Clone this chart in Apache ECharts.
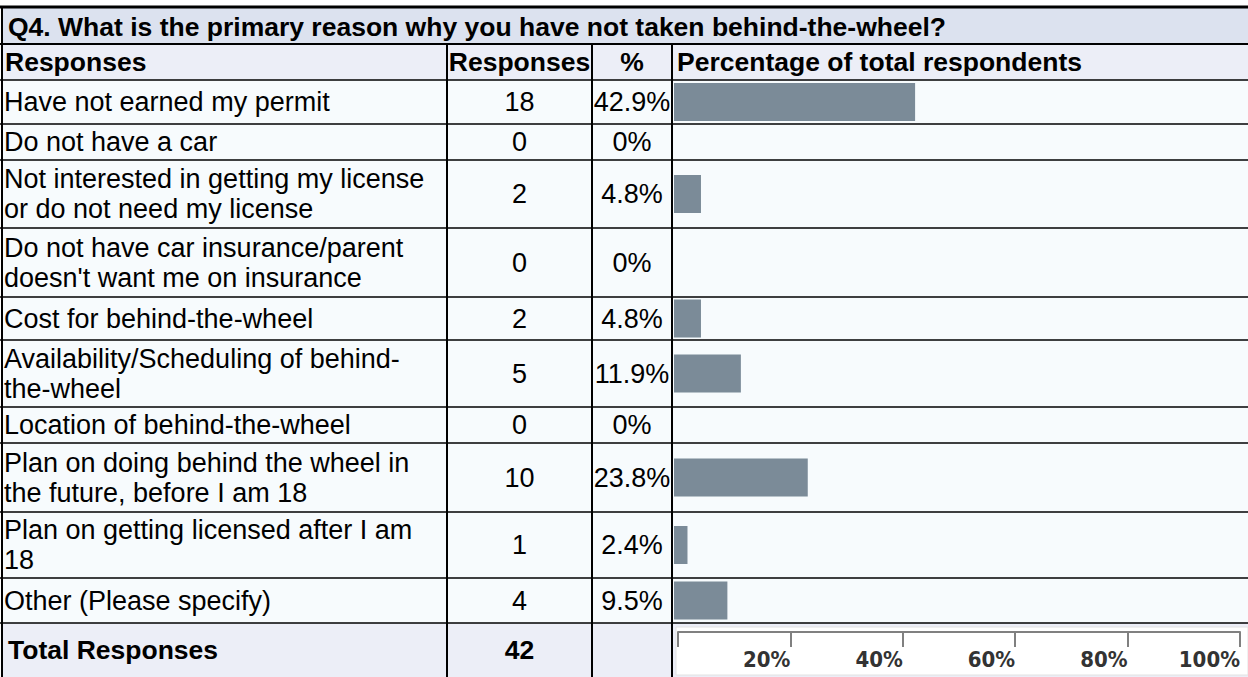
<!DOCTYPE html>
<html><head><meta charset="utf-8">
<script src="https://cdn.jsdelivr.net/npm/echarts@6/dist/echarts.min.js"></script>
<style>html,body{margin:0;padding:0;background:#fff}#c{width:1248px;height:677px}</style>
</head><body><div id="c"></div><script>
// ---- data ----
const title = 'Q4. What is the primary reason why you have not taken behind-the-wheel?';
const headers = ['Responses', 'Responses', '%', 'Percentage of total respondents'];
const categories = [
  'Have not earned my permit',
  'Do not have a car',
  'Not interested in getting my license\nor do not need my license',
  "Do not have car insurance/parent\ndoesn't want me on insurance",
  'Cost for behind-the-wheel',
  'Availability/Scheduling of behind-\nthe-wheel',
  'Location of behind-the-wheel',
  'Plan on doing behind the wheel in\nthe future, before I am 18',
  'Plan on getting licensed after I am\n18',
  'Other (Please specify)'
];
const responses = [18, 0, 2, 0, 2, 5, 0, 10, 1, 4];
const percents = [42.9, 0, 4.8, 0, 4.8, 11.9, 0, 23.8, 2.4, 9.5];
const totalLabel = 'Total Responses';
const totalResponses = 42;
const axisTickValues = [0, 20, 40, 60, 80, 100];

// ---- layout ----
const W = 1248;
const titleTop = 7, headerTop = 44, dataTop = 80;
const rowHeights = [44, 36, 68, 69, 43, 67, 36, 69, 66, 45];
const colX = [2, 447, 592, 672];
const barLeft = 674, barWidthPx = 562;
const rowTops = [];
{ let y = dataTop; rowHeights.forEach(h => { rowTops.push(y); y += h; }); }
const totalTop = rowTops[rowTops.length - 1] + rowHeights[rowHeights.length - 1];
const bottom = 677;

const FONT = '"Liberation Sans", Arial, sans-serif';
const reg = '27px ' + FONT;
const bold = 'bold 26.5px ' + FONT;

const chart = echarts.init(document.getElementById('c'), null, { renderer: 'svg' });

const grids = [], xAxes = [], yAxes = [], series = [];
categories.forEach((c, i) => {
  grids.push({ left: barLeft, top: rowTops[i], width: barWidthPx, height: rowHeights[i], containLabel: false });
  xAxes.push({ gridIndex: i, type: 'value', min: 0, max: 100, show: false });
  yAxes.push({ gridIndex: i, type: 'category', data: [c], show: false });
  series.push({
    type: 'bar', xAxisIndex: i, yAxisIndex: i, data: [percents[i]],
    barWidth: 38, itemStyle: { color: '#7b8b98' }, silent: true, animation: false
  });
});
// ruler axis in total row
const ai = categories.length;
grids.push({ left: 678, top: 632, width: 562, height: 30 });
xAxes.push({
  gridIndex: ai, type: 'value', position: 'top', min: 0, max: 100, interval: 20,
  axisLine: { show: true, onZero: false, lineStyle: { color: '#808080', width: 2 } },
  axisTick: { show: true, inside: true, length: 15, lineStyle: { color: '#808080', width: 2 } },
  splitLine: { show: false },
  axisLabel: {
    inside: true, align: 'right', margin: 16, color: '#333',
    fontFamily: '"Liberation Sans Narrow", "DejaVu Sans Condensed", sans-serif',
    fontWeight: 'bold', fontSize: 22,
    formatter: v => axisTickValues.indexOf(v) > 0 ? v + '%' : ''
  }
});
yAxes.push({ gridIndex: ai, type: 'value', min: 0, max: 1, show: false });

// ---- table graphics ----
const g = [];
function rect(x, y, w, h, fill, z, stroke) {
  g.push({ type: 'rect', z: z, silent: true, shape: { x, y, width: w, height: h },
    style: { fill, stroke: stroke || null, lineWidth: stroke ? 1 : 0 } });
}
function line(x1, y1, x2, y2, w) {
  g.push({ type: 'line', z: 100, silent: true, shape: { x1, y1, x2, y2 },
    style: { stroke: '#000', lineWidth: w } });
}
function text(t, x, y, font, align) {
  g.push({ type: 'text', z: 100, silent: true,
    style: { text: t, x, y, font, fill: '#000', textAlign: align || 'left', textVerticalAlign: 'middle', lineHeight: 30 } });
}
rect(2, titleTop, W - 2, headerTop - titleTop, '#dce2ef', -10);
rect(2, headerTop, W - 2, dataTop - headerTop, '#eceef7', -10);
rect(2, dataTop, W - 2, totalTop - dataTop, '#f7fbfd', -10);
rect(2, totalTop, W - 2, bottom - totalTop, '#eceef7', -10);
rect(676, totalTop + 4, W - 676, bottom - totalTop - 6, '#ffffff', -5, '#e2e2e2');

line(0, titleTop, W, titleTop, 3);
line(colX[0], titleTop, colX[0], bottom, 2);
line(0, headerTop, W, headerTop, 2);
line(0, dataTop, W, dataTop, 1.5);
rowTops.forEach((t, i) => line(0, t + rowHeights[i], W, t + rowHeights[i], 1.5));
[colX[1], colX[2], colX[3]].forEach(x => line(x, headerTop, x, bottom, 2));

const cntC = (colX[1] + colX[2]) / 2, pctC = (colX[2] + colX[3]) / 2;
text(title, 8, (titleTop + headerTop) / 2 + 1, bold);
const hy = (headerTop + dataTop) / 2;
text(headers[0], 5, hy, bold);
text(headers[1], cntC, hy, bold, 'center');
text(headers[2], pctC, hy, bold, 'center');
text(headers[3], 677, hy, bold);
categories.forEach((c, i) => {
  const cy = rowTops[i] + rowHeights[i] / 2;
  text(c, 4, cy, reg);
  text(String(responses[i]), cntC, cy, reg, 'center');
  text(percents[i] + '%', pctC, cy, reg, 'center');
});
const ty = (totalTop + bottom) / 2;
text(totalLabel, 8, ty, bold);
text(String(totalResponses), cntC, ty, bold, 'center');

chart.setOption({
  animation: false,
  grid: grids, xAxis: xAxes, yAxis: yAxes, series: series,
  graphic: { elements: g }
});
</script></body></html>
